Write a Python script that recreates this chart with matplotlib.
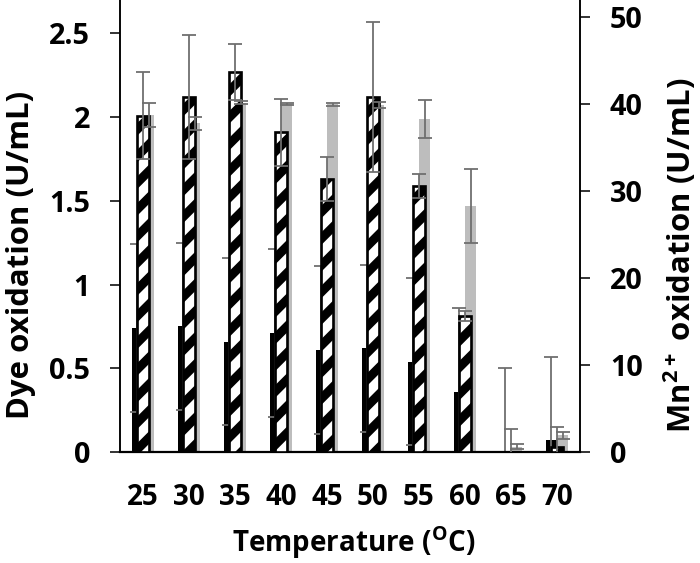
import matplotlib
matplotlib.use("Agg")
import matplotlib.pyplot as plt
import numpy as np

plt.rcParams['font.family'] = ['Open Sans', 'DejaVu Sans']
plt.rcParams['font.weight'] = 'bold'
plt.rcParams['mathtext.default'] = 'regular'
plt.rcParams['hatch.linewidth'] = 4.0

# datos
temperaturas = ['25', '30', '35', '40', '45', '50', '55', '60', '65', '70']
negro = [0.74, 0.75, 0.66, 0.71, 0.61, 0.62, 0.54, 0.36, 0.0, 0.07]
negro_err = [0.5, 0.5, 0.5, 0.5, 0.5, 0.5, 0.5, 0.5, 0.5, 0.5]
rayado = [2.01, 2.12, 2.27, 1.91, 1.63, 2.12, 1.59, 0.81, 0.0, 0.03]
rayado_err = [0.26, 0.37, 0.17, 0.2, 0.13, 0.45, 0.07, 0.03, 0.14, 0.12]
gris = [38.8, 37.8, 40.2, 40.0, 40.0, 39.9, 38.3, 28.3, 0.6, 1.9]
gris_err = [1.4, 0.7, 0.2, 0.1, 0.15, 0.35, 2.15, 4.2, 0.3, 0.4]

x = np.arange(len(temperaturas))
ancho = 0.24
desp = 0.12
color_err = '#6e6e6e'
color_gris = '#bdbdbd'

fig = plt.figure(figsize=(700 / 160, 563 / 160), dpi=160)
ax = fig.add_axes([120 / 700, 1 - 452 / 563, 460 / 700, 452 / 563])
ax2 = ax.twinx()   # barras grises (eje derecho)
ax3 = ax.twinx()   # barras de error grises encima de todo

ax2.set_zorder(1)
ax.set_zorder(2)
ax3.set_zorder(3)
ax.patch.set_visible(False)
ax3.patch.set_visible(False)

eb = dict(ecolor=color_err, elinewidth=0.8, capsize=3, capthick=0.8)

# Serie negra
ax.bar(x - desp, negro, ancho, color='black', zorder=1)
ax.errorbar(x - desp, negro, yerr=negro_err, fmt='none', zorder=2, **eb)

# Serie rayada
ax.bar(x, rayado, ancho, color='white', edgecolor='black', linewidth=1.2,
       hatch='//', zorder=3)
ax.errorbar(x, rayado, yerr=rayado_err, fmt='none', zorder=4, **eb)

# Serie gris (eje derecho)
ax2.bar(x + desp, gris, ancho, color=color_gris, zorder=1)
ax3.errorbar(x + desp, gris, yerr=gris_err, fmt='none', **eb)

ax.set_xlim(-0.5, 9.5)
ax.set_ylim(0, 2.7)
ax2.set_ylim(0, 52)
ax3.set_ylim(0, 52)

ax.set_xticks(x)
ax.set_xticklabels(temperaturas, fontsize=12.5, fontweight='bold')
ax.tick_params(axis='x', length=0, pad=14)
ax.set_yticks([0, 0.5, 1, 1.5, 2, 2.5])
ax.set_yticklabels(['0', '0.5', '1', '1.5', '2', '2.5'], fontsize=13, fontweight='bold')
ax.tick_params(axis='y', length=4.5, width=0.7, pad=9)

ax2.set_yticks([0, 10, 20, 30, 40, 50])
ax2.set_yticklabels(['0', '10', '20', '30', '40', '50'], fontsize=13, fontweight='bold')
ax2.tick_params(axis='y', length=4.5, width=0.7, pad=9)
ax3.axis('off')

for a in (ax, ax2):
    a.spines['top'].set_visible(False)
    a.spines['left'].set_linewidth(0.7)
    a.spines['right'].set_linewidth(0.7)
    a.spines['bottom'].set_linewidth(1.0)
ax2.spines['bottom'].set_visible(False)

fig.text(21 / 700, 1 - 255 / 563, 'Dye oxidation (U/mL)', rotation=90,
         ha='center', va='center', fontsize=14, fontweight='bold')
fig.text(680 / 700, 1 - 255 / 563, 'Mn$^{2+}$ oxidation (U/mL)', rotation=90,
         ha='center', va='center', fontsize=14, fontweight='bold')
fig.text(354 / 700, 1 - 543 / 563, 'Temperature ($^{O}$C)',
         ha='center', va='center', fontsize=12.5, fontweight='bold')

fig.savefig('out.png', dpi=160)
